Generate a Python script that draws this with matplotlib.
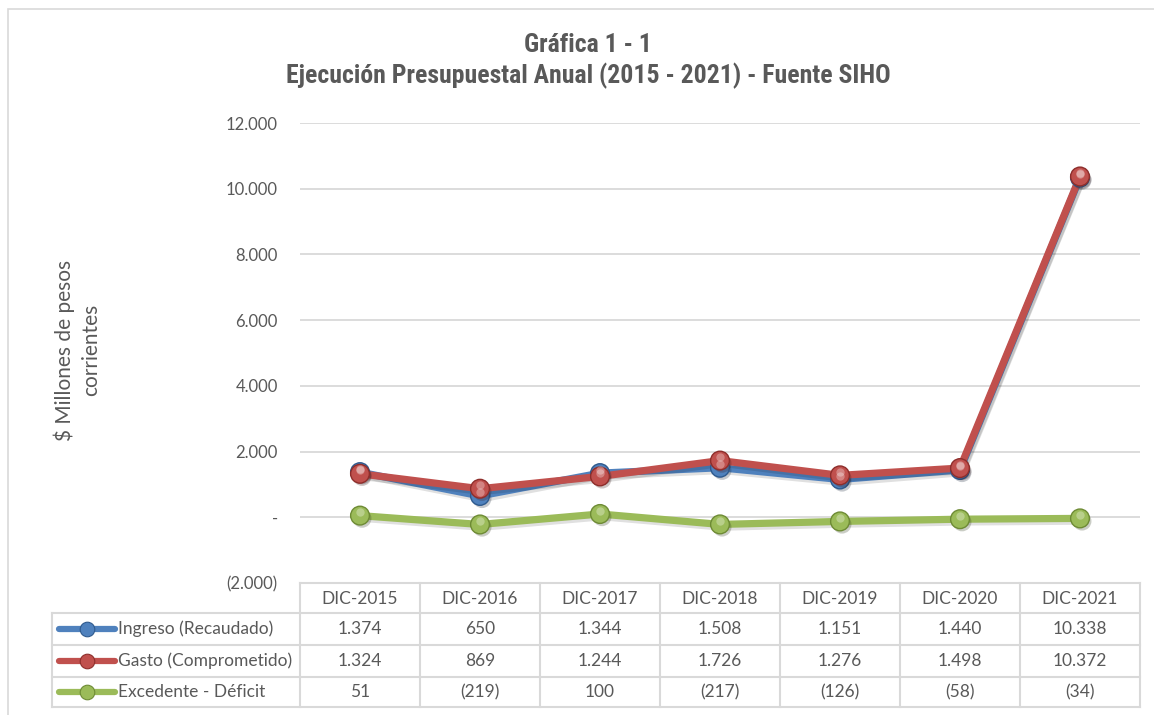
import matplotlib
matplotlib.use('Agg')
import matplotlib.pyplot as plt
import matplotlib.patheffects as pe
from matplotlib.lines import Line2D
from matplotlib.patches import Rectangle
import matplotlib.transforms as mtransforms

# datos
categorias = ['DIC-2015', 'DIC-2016', 'DIC-2017', 'DIC-2018', 'DIC-2019', 'DIC-2020', 'DIC-2021']
ingreso = [1374, 650, 1344, 1508, 1151, 1440, 10338]
gasto = [1324, 869, 1244, 1726, 1276, 1498, 10372]
excedente = [51, -219, 100, -217, -126, -58, -34]
series_nombres = ['Ingreso (Recaudado)', 'Gasto (Comprometido)', 'Excedente - Déficit']
y_ticks = [-2000, 0, 2000, 4000, 6000, 8000, 10000, 12000]

colores = ['#4F81BD', '#C0504D', '#9BBB59']
bordes = ['#2E5A8E', '#8E2E2B', '#6E8B35']
gris = '#595959'
linea_tabla = '#D9D9D9'

W, H = 1154, 715


def fmt(v):
    if v == 0:
        return '-'
    s = f'{abs(v):,}'.replace(',', '.')
    return f'({s})' if v < 0 else s


def fy(py):
    # pixel desde arriba -> fraccion de figura
    return 1 - py / H


plt.rcParams['font.family'] = ['Lato', 'DejaVu Sans']
fig = plt.figure(figsize=(W / 100, H / 100), dpi=100)

# marco exterior
fig.patches.append(Rectangle((8 / W, fy(1200)), 2, fy(9) - fy(1200), transform=fig.transFigure,
                             fill=False, edgecolor='#D9D9D9', linewidth=1.2))

ax = fig.add_axes([300 / W, fy(583), 840 / W, (583 - 123) / H])
x = list(range(len(categorias)))
ax.set_xlim(-0.5, len(categorias) - 0.5)
ax.set_ylim(-2000, 12000)
ax.set_yticks(y_ticks)
ax.set_yticklabels([fmt(v) for v in y_ticks], color=gris, fontsize=12)
ax.tick_params(axis='y', length=0, pad=16)
ax.set_xticks([])
for s in ax.spines.values():
    s.set_visible(False)
for v in y_ticks[1:]:
    ax.axhline(v, color='#D9D9D9', linewidth=1.3, zorder=0)

sombra = [pe.SimpleLineShadow(offset=(1.5, -2), alpha=0.12, shadow_color='k'), pe.Normal()]
orden = [2, 0, 1]
datos = [ingreso, gasto, excedente]
for i in orden:
    ax.plot(x, datos[i], color=colores[i], linewidth=5.2, solid_capstyle='round',
            path_effects=sombra, zorder=2 + i, clip_on=False)
    ax.plot(x, datos[i], linestyle='none', marker='o', markersize=13.5, markerfacecolor=colores[i],
            markeredgecolor=bordes[i], markeredgewidth=1.0, zorder=5 + i, clip_on=False,
            path_effects=[pe.SimplePatchShadow(offset=(1.5, -2), alpha=0.25), pe.Normal()])
    brillo = mtransforms.offset_copy(ax.transData, fig=fig, x=0, y=2.5, units='points')
    ax.plot(x, datos[i], linestyle='none', marker='o', markersize=6, markerfacecolor='white',
            markeredgewidth=0, alpha=0.3, transform=brillo, zorder=8 + i, clip_on=False)

ax.set_ylabel('$ Millones de pesos\ncorrientes', color=gris, fontsize=15, linespacing=1.4)
ax.yaxis.set_label_coords((101 - 300) / 840, 0.5 + (583 - 350 - (583 - 123) / 2) / (583 - 123))

# titulo
fam_titulo = ['Liberation Sans Narrow', 'Roboto Condensed', 'Liberation Sans', 'DejaVu Sans']
fig.text(588 / W, fy(45), 'Gráfica 1 - 1', ha='center', va='center', fontsize=18.5,
         fontweight='bold', color=gris, family=fam_titulo)
fig.text(588 / W, fy(76), 'Ejecución Presupuestal Anual (2015 - 2021) - Fuente SIHO', ha='center',
         va='center', fontsize=18.5, fontweight='bold', color=gris, family=fam_titulo)

# tabla de datos
tr = mtransforms.blended_transform_factory(ax.transData, fig.transFigure)
filas_y = [583, 613, 645, 677, 707]
x0, x1 = -0.5, len(categorias) - 0.5
lw_t = 1.5
ax.add_line(Line2D([x0, x1], [fy(583)] * 2, transform=tr, color=linea_tabla, lw=lw_t, clip_on=False))
for py in filas_y[1:]:
    fig.lines.append(Line2D([52 / W, 1140 / W], [fy(py)] * 2, transform=fig.transFigure,
                            color=linea_tabla, lw=lw_t))
fig.lines.append(Line2D([52 / W, 52 / W], [fy(613), fy(707)], transform=fig.transFigure,
                        color=linea_tabla, lw=lw_t))
for k in range(len(categorias) + 1):
    ax.add_line(Line2D([k - 0.5, k - 0.5], [fy(583), fy(707)], transform=tr, color=linea_tabla,
                       lw=lw_t, clip_on=False))

for k, c in enumerate(categorias):
    ax.text(k, fy(599), c, transform=tr, ha='center', va='center', fontsize=12.5, color=gris)

for r in range(3):
    yc = fy((filas_y[r + 1] + filas_y[r + 2]) / 2)
    for k in range(len(categorias)):
        ax.text(k, yc, fmt(datos[r][k]), transform=tr, ha='center', va='center', fontsize=12.5,
                color=gris)
    fig.lines.append(Line2D([59 / W, 115 / W], [yc, yc], transform=fig.transFigure,
                            color=colores[r], lw=4.5, solid_capstyle='round'))
    fig.lines.append(Line2D([87 / W], [yc], transform=fig.transFigure, marker='o', markersize=10.5,
                            markerfacecolor=colores[r], markeredgecolor=bordes[r],
                            markeredgewidth=0.8))
    fig.text(118 / W, yc, series_nombres[r], ha='left', va='center', fontsize=12.5, color=gris)

fig.savefig('out.png', dpi=100)
